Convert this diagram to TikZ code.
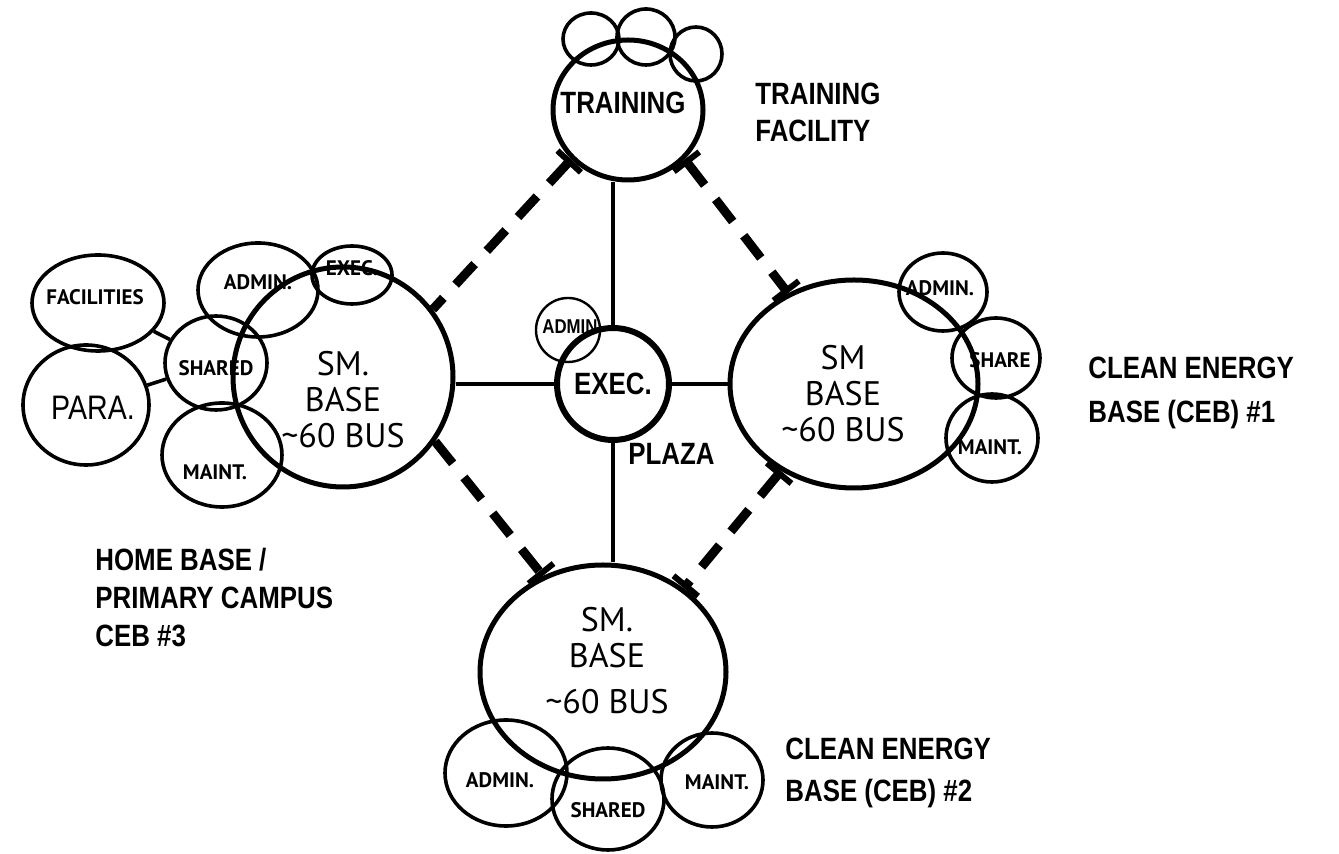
\documentclass[tikz,border=0pt]{standalone}
\usepackage{fontspec}
\usepackage{tikz}
\usetikzlibrary{arrows.meta,shapes}
\newfontfamily\capfont[FakeStretch=0.84]{Liberation Sans}
\newfontfamily\handfont{PT Sans}

\tikzset{
  bub/.style={draw,ellipse,line width=1.8pt,inner sep=0pt},
  bigbase/.style={draw,ellipse,line width=2.5pt,inner sep=0pt},
  hand/.style={font=\handfont\fontsize{17}{18}\selectfont,align=center},
  lbl/.style={font=\handfont\bfseries\fontsize{10.5}{12}\selectfont},
  tag/.style={font=\capfont\bfseries\fontsize{15.4}{20}\selectfont,align=left,inner sep=0pt,anchor=north west},
  link/.style={line width=2pt},
  tick/.tip={Bar[width=16pt,line width=3pt]},
  dashlink/.style={line width=4.5pt,dash pattern=on 14pt off 9pt},
}

\begin{document}
\begin{tikzpicture}[x=0.5pt,y=-0.5pt]
\useasboundingbox (0,0) rectangle (1339,854);

\node (LB) at (343,377)[bigbase,minimum width=110pt,minimum height=110pt,label={[hand,yshift=-11.5pt]center:SM.\\BASE\\\textasciitilde 60 BUS}] {};
\node (LA) at (258,290)[bub,minimum width=60pt,minimum height=47pt,label={[lbl,yshift=4pt]center:ADMIN.}] {};
\node (LE) at (352,275)[bub,minimum width=40pt,minimum height=29pt,label={[lbl,yshift=3.5pt]center:EXEC.}] {};
\node (FAC) at (98,303)[bub,minimum width=66pt,minimum height=48pt,label={[lbl,xshift=-1.5pt,yshift=3pt]center:FACILITIES}] {};
\node (PA) at (86,405)[bub,minimum width=63pt,minimum height=60pt,label={[font=\capfont\fontsize{17}{20}\selectfont,xshift=3.5pt,yshift=-1.5pt]center:PARA.}] {};
\node (SHL) at (216,363)[bub,minimum width=51pt,minimum height=47pt,label={[lbl,yshift=-2.5pt]center:SHARED}] {};
\node (MTL) at (222,455)[bub,minimum width=60pt,minimum height=52pt,label={[lbl,xshift=-3.5pt,yshift=-8.5pt]center:MAINT.}] {};

\node (EX) at (613,384)[draw,circle,line width=3pt,minimum size=56pt,inner sep=0pt,font=\capfont\bfseries\fontsize{15.4}{20}\selectfont] {EXEC.};
\node (AD) at (568,330)[draw,circle,line width=1.2pt,minimum size=32pt,inner sep=0pt,label={[font=\capfont\bfseries\fontsize{10}{12}\selectfont,xshift=1pt,yshift=1.5pt]center:ADMIN}] {};

\node (TR) at (628,110)[bigbase,minimum width=75pt,minimum height=70pt,label={[font=\capfont\bfseries\fontsize{15.4}{20}\selectfont,xshift=-2.5pt,yshift=3.5pt]center:TRAINING}] {};
\node (T1) at (591,39)[bub,minimum width=28pt,minimum height=26pt] {};
\node (T2) at (646,37)[bub,minimum width=29pt,minimum height=28pt] {};
\node (T3) at (696,54)[bub,minimum width=26pt,minimum height=27pt] {};

\node (RB) at (854,384)[bigbase,minimum width=124pt,minimum height=104pt,label={[hand,xshift=-5.5pt,yshift=-5pt]center:SM\\BASE\\\textasciitilde 60 BUS}] {};
\node (RA) at (943,292)[bub,minimum width=44pt,minimum height=39pt,label={[lbl,xshift=-1.5pt,yshift=2pt]center:ADMIN.}] {};
\node (RS) at (996,358)[bub,minimum width=44pt,minimum height=40pt,label={[lbl,xshift=2pt,yshift=-1pt]center:SHARE}] {};
\node (RM) at (992,438)[bub,minimum width=46pt,minimum height=44pt,label={[lbl,xshift=-1pt,yshift=-4.5pt]center:MAINT.}] {};

\node (BB) at (603,672)[bigbase,minimum width=123pt,minimum height=107pt,label={[hand,xshift=2pt,yshift=5.5pt]center:SM.\\BASE\\[5pt]\textasciitilde 60 BUS}] {};
\node (BA) at (506,773)[bub,minimum width=61pt,minimum height=53pt,label={[lbl,xshift=-3pt,yshift=-3.5pt]center:ADMIN.}] {};
\node (BS) at (608,799)[bub,minimum width=56pt,minimum height=51pt,label={[lbl,yshift=-5.5pt]center:SHARED}] {};
\node (BM) at (712,780)[bub,minimum width=51pt,minimum height=47pt,label={[lbl,xshift=2.5pt,yshift=-1pt]center:MAINT.}] {};

\node (TF) at (755,83)[tag,font=\capfont\bfseries\fontsize{15.4}{18.5}\selectfont] {TRAINING\\FACILITY};
\node (C1) at (1088,357)[tag,font=\capfont\bfseries\fontsize{15.4}{22}\selectfont] {CLEAN ENERGY\\BASE (CEB) \#1};
\node (HB) at (95,548)[tag,font=\capfont\bfseries\fontsize{15.4}{19}\selectfont] {HOME BASE /\\PRIMARY CAMPUS\\CEB \#3};
\node (C2) at (785,738)[tag,font=\capfont\bfseries\fontsize{15.4}{21}\selectfont] {CLEAN ENERGY\\BASE (CEB) \#2};
\node (PL) at (628,443)[tag] {PLAZA};

\draw [link] (EX.west) -- (EX.west -| LB.east);
\draw [link] (EX.east) -- (EX.east -| RB.west);
\draw [link] (EX.north) -- (EX.north |- TR.south);
\draw [link] (EX.south) -- (EX.south |- BB.north);
\draw [line width=1.8pt] (FAC) -- (SHL);
\draw [line width=1.8pt] (PA) -- (SHL);

\draw [dashlink,tick-] (TR.221) -- (LB.37);
\draw [dashlink,tick-tick] (TR.319) -- (RB.126);
\draw [dashlink,-tick] (LB.325) -- (BB.122);
\draw [dashlink,tick-tick] (RB.230) -- (BB.46);
\end{tikzpicture}
\end{document}
